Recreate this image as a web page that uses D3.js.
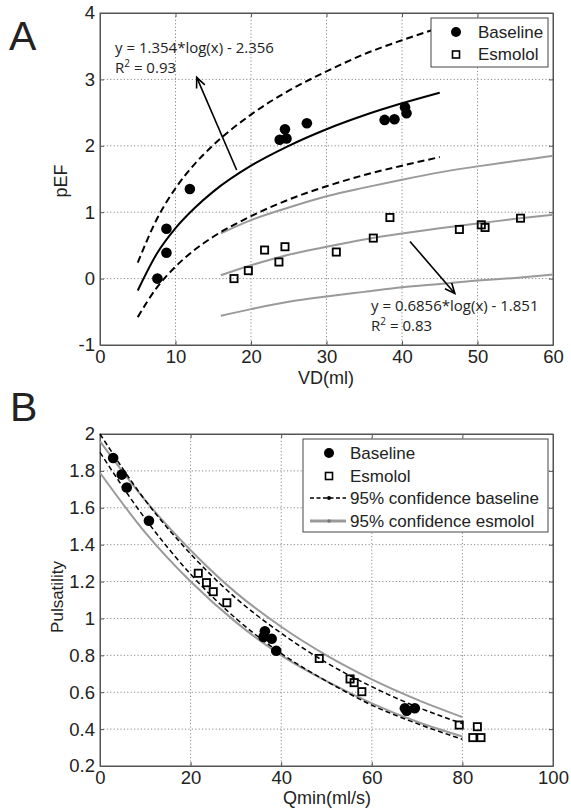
<!DOCTYPE html>
<html>
<head>
<meta charset="utf-8">
<script src="https://cdnjs.cloudflare.com/ajax/libs/d3/7.8.5/d3.min.js"></script>
<style>
  body { margin: 0; background: #fff; }
  svg text { font-family: "Liberation Sans", Arial, sans-serif; fill: #222; }
  svg text.note { font-family: "Open Sans", sans-serif; }
</style>
</head>
<body>
<div id="chart"></div>
<script>
// ---- panel A: pEF vs VD ----
const baselineA = [[7.6, 0.0], [8.8, 0.39], [8.8, 0.75], [11.9, 1.35], [23.8, 2.09], [24.5, 2.25], [24.7, 2.11],
  [27.4, 2.34], [37.7, 2.39], [39.0, 2.40], [40.4, 2.58], [40.6, 2.49]];
const esmololA = [[17.75, 0.0], [19.65, 0.12], [21.8, 0.43], [23.7, 0.25], [24.5, 0.48], [31.3, 0.40], [36.2, 0.61],
  [38.4, 0.92], [47.6, 0.74], [50.5, 0.81], [51.0, 0.77], [55.7, 0.91]];

const baseFitX = [5, 7.5, 10, 12.5, 15, 20, 25, 30, 35, 40, 45];
const baseFitA = [-0.18, 0.37, 0.76, 1.06, 1.31, 1.70, 2.00, 2.25, 2.46, 2.64, 2.80];
const baseUpperA = [0.24, 0.89, 1.36, 1.72, 2.01, 2.47, 2.83, 3.12, 3.38, 3.59, 3.78];
const baseLowerA = [-0.58, -0.14, 0.18, 0.43, 0.63, 0.94, 1.19, 1.39, 1.56, 1.70, 1.83];

const esmoFitX = [16, 20, 25, 30, 35, 40, 45, 50, 55, 60];
const esmoFitA = [0.05, 0.20, 0.36, 0.48, 0.59, 0.68, 0.76, 0.83, 0.90, 0.96];
const esmoUpperA = [0.68, 0.88, 1.07, 1.24, 1.37, 1.49, 1.60, 1.69, 1.77, 1.85];
const esmoLowerA = [-0.56, -0.46, -0.35, -0.27, -0.20, -0.13, -0.08, -0.03, 0.01, 0.06];

const xTicksA = [0, 10, 20, 30, 40, 50, 60];
const yTicksA = [-1, 0, 1, 2, 3, 4];

// ---- panel B: Pulsatility vs Qmin ----
const baselineB = [[2.9, 1.87], [4.8, 1.78], [5.9, 1.71], [10.8, 1.53], [36.1, 0.90], [36.4, 0.93], [37.9, 0.89],
  [38.9, 0.825], [67.3, 0.513], [67.7, 0.50], [69.5, 0.513]];
const esmololB = [[21.7, 1.245], [23.5, 1.194], [25.0, 1.145], [28.0, 1.085], [48.4, 0.783], [55.2, 0.672],
  [56.1, 0.652], [57.8, 0.603], [79.3, 0.422], [83.3, 0.413], [82.3, 0.354], [84.1, 0.354]];

const confX = [0, 10, 20, 30, 40, 50, 60, 70, 80];
const baseUpperB = [2.00, 1.64, 1.35, 1.11, 0.92, 0.76, 0.63, 0.52, 0.43];
const baseLowerB = [1.90, 1.54, 1.24, 1.00, 0.81, 0.66, 0.53, 0.43, 0.345];
const esmoUpperB = [1.96, 1.64, 1.37, 1.14, 0.955, 0.80, 0.67, 0.56, 0.465];
const esmoLowerB = [1.79, 1.465, 1.20, 0.98, 0.80, 0.66, 0.54, 0.44, 0.36];

const xTicksB = [0, 20, 40, 60, 80, 100];
const yTicksB = [0.2, 0.4, 0.6, 0.8, 1, 1.2, 1.4, 1.6, 1.8, 2];

const width = 571;
const height = 811;
const gray = "#9a9a9a";

const svg = d3.select("#chart").append("svg")
  .attr("width", width)
  .attr("height", height);

function makePanel(opt) {
  const x = d3.scaleLinear().domain(opt.xDomain).range([100, 553]);
  const y = d3.scaleLinear().domain(opt.yDomain).range([opt.bottom, opt.top]);
  const g = svg.append("g");

  // dotted grid
  g.append("g").selectAll("line")
    .data(opt.xTicks.slice(1, -1))
    .join("line")
    .attr("x1", d => x(d)).attr("x2", d => x(d))
    .attr("y1", opt.top).attr("y2", opt.bottom)
    .attr("stroke", "#8a8a8a").attr("stroke-dasharray", "1.2,2.2");
  g.append("g").selectAll("line")
    .data(opt.yTicks.slice(1, -1))
    .join("line")
    .attr("y1", d => y(d)).attr("y2", d => y(d))
    .attr("x1", 100).attr("x2", 553)
    .attr("stroke", "#8a8a8a").attr("stroke-dasharray", "1.2,2.2");

  const fmt = d => String(d);
  g.append("g")
    .attr("transform", `translate(0,${opt.bottom})`)
    .call(d3.axisBottom(x).tickValues(opt.xTicks).tickFormat(fmt).tickSize(-4).tickPadding(5).tickSizeOuter(0));
  g.append("g")
    .attr("transform", "translate(100,0)")
    .call(d3.axisLeft(y).tickValues(opt.yTicks).tickFormat(fmt).tickSize(-4).tickPadding(5).tickSizeOuter(0));
  g.append("g").attr("transform", `translate(0,${opt.top})`)
    .call(d3.axisTop(x).tickValues(opt.xTicks).tickSize(-4).tickFormat("").tickSizeOuter(0));
  g.append("g").attr("transform", "translate(553,0)")
    .call(d3.axisRight(y).tickValues(opt.yTicks).tickSize(-4).tickFormat("").tickSizeOuter(0));
  g.selectAll(".domain, .tick line").attr("stroke", "#555");
  g.selectAll(".tick text").attr("font-size", 18.5).attr("fill", "#222")
    .attr("font-family", "'Liberation Sans', Arial, sans-serif");

  g.append("rect")
    .attr("x", 100).attr("y", opt.top)
    .attr("width", 453).attr("height", opt.bottom - opt.top)
    .attr("fill", "none").attr("stroke", "#555");

  return { x, y, g };
}

function drawCurve(p, xs, ys, stroke, w, dash) {
  const line = d3.line()
    .x((d, i) => p.x(xs[i]))
    .y(d => p.y(d))
    .curve(d3.curveMonotoneX);
  p.g.append("path")
    .attr("d", line(ys))
    .attr("fill", "none")
    .attr("stroke", stroke)
    .attr("stroke-width", w)
    .attr("stroke-dasharray", dash || null);
}

function drawPoints(p, data, kind, size) {
  if (kind === "circle") {
    p.g.append("g").selectAll("circle")
      .data(data)
      .join("circle")
      .attr("cx", d => p.x(d[0])).attr("cy", d => p.y(d[1]))
      .attr("r", size).attr("fill", "#000");
  } else {
    p.g.append("g").selectAll("rect")
      .data(data)
      .join("rect")
      .attr("x", d => p.x(d[0]) - size / 2).attr("y", d => p.y(d[1]) - size / 2)
      .attr("width", size).attr("height", size)
      .attr("fill", "none").attr("stroke", "#000").attr("stroke-width", 1.8);
  }
}

function arrow(p, from, to) {
  const x1 = p.x(from[0]), y1 = p.y(from[1]), x2 = p.x(to[0]), y2 = p.y(to[1]);
  const a = Math.atan2(y2 - y1, x2 - x1);
  const head = 11, spread = 0.42;
  p.g.append("line")
    .attr("x1", x1).attr("y1", y1).attr("x2", x2).attr("y2", y2)
    .attr("stroke", "#000").attr("stroke-width", 1.6);
  p.g.append("path")
    .attr("d", `M${x2 - head * Math.cos(a - spread)},${y2 - head * Math.sin(a - spread)}L${x2},${y2}L${x2 - head * Math.cos(a + spread)},${y2 - head * Math.sin(a + spread)}`)
    .attr("fill", "none").attr("stroke", "#000").attr("stroke-width", 1.6);
}

function equation(p, pos, eq, r2) {
  p.g.append("text").attr("class", "note")
    .attr("x", p.x(pos[0])).attr("y", p.y(pos[1]))
    .attr("font-size", 15)
    .text(eq);
  const t = p.g.append("text").attr("class", "note")
    .attr("x", p.x(pos[0])).attr("y", p.y(pos[2]))
    .attr("font-size", 15);
  t.append("tspan").text("R");
  t.append("tspan").attr("font-size", 10).attr("dy", -5.5).text("2");
  t.append("tspan").attr("dy", 5.5).text(` = ${r2}`);
}

// ---------- Panel A ----------
const pA = makePanel({ xDomain: [0, 60], yDomain: [-1, 4], top: 13, bottom: 345, xTicks: xTicksA, yTicks: yTicksA });

drawCurve(pA, esmoFitX, esmoUpperA, gray, 2);
drawCurve(pA, esmoFitX, esmoFitA, gray, 2);
drawCurve(pA, esmoFitX, esmoLowerA, gray, 2);
drawCurve(pA, baseFitX, baseUpperA, "#000", 2, "7,4");
drawCurve(pA, baseFitX, baseLowerA, "#000", 2, "7,4");
drawCurve(pA, baseFitX, baseFitA, "#000", 2);
drawPoints(pA, baselineA, "circle", 5.3);
drawPoints(pA, esmololA, "square", 7.2);

arrow(pA, [18.1, 1.636], [12.81, 3.03]);
arrow(pA, [41.06, 0.559], [47.0, -0.224]);
equation(pA, [1.99, 3.405, 3.10], "y = 1.354*log(x) - 2.356", "0.93");
equation(pA, [35.9, -0.488, -0.782], "y = 0.6856*log(x) - 1.851", "0.83");

svg.append("text").attr("x", 326).attr("y", 384)
  .attr("text-anchor", "middle").attr("font-size", 18).text("VD(ml)");
svg.append("text").attr("transform", "translate(67,181) rotate(-90)")
  .attr("text-anchor", "middle").attr("font-size", 18).text("pEF");
svg.append("text").attr("x", 9).attr("y", 50)
  .attr("font-size", 41).attr("fill", "#000").text("A");

// legend A
const legA = svg.append("g");
legA.append("rect").attr("x", 431).attr("y", 18).attr("width", 117).attr("height", 49)
  .attr("fill", "#fff").attr("stroke", "#444");
legA.append("circle").attr("cx", 456).attr("cy", 32).attr("r", 5).attr("fill", "#000");
legA.append("rect").attr("x", 452.5).attr("y", 51).attr("width", 7).attr("height", 7)
  .attr("fill", "none").attr("stroke", "#000").attr("stroke-width", 1.6);
legA.append("text").attr("x", 478).attr("y", 38).attr("font-size", 17).text("Baseline");
legA.append("text").attr("x", 478).attr("y", 60).attr("font-size", 17).text("Esmolol");

// ---------- Panel B ----------
const pB = makePanel({ xDomain: [0, 100], yDomain: [0.2, 2], top: 434, bottom: 766, xTicks: xTicksB, yTicks: yTicksB });

drawCurve(pB, confX, esmoUpperB, gray, 2);
drawCurve(pB, confX, esmoLowerB, gray, 2);
drawCurve(pB, confX, baseUpperB, "#000", 1.5, "5,3");
drawCurve(pB, confX, baseLowerB, "#000", 1.5, "5,3");
drawPoints(pB, baselineB, "circle", 5.3);
drawPoints(pB, esmololB, "square", 7.2);

svg.append("text").attr("x", 327).attr("y", 804)
  .attr("text-anchor", "middle").attr("font-size", 18).text("Qmin(ml/s)");
svg.append("text").attr("transform", "translate(63,597) rotate(-90)")
  .attr("text-anchor", "middle").attr("font-size", 17).text("Pulsatility");
svg.append("text").attr("x", 10).attr("y", 421)
  .attr("font-size", 41).attr("fill", "#000").text("B");

// legend B
const legB = svg.append("g");
legB.append("rect").attr("x", 303).attr("y", 439).attr("width", 245).attr("height", 93)
  .attr("fill", "#fff").attr("stroke", "#444");
legB.append("circle").attr("cx", 329).attr("cy", 453).attr("r", 5).attr("fill", "#000");
legB.append("rect").attr("x", 325.5).attr("y", 472.5).attr("width", 7).attr("height", 7)
  .attr("fill", "none").attr("stroke", "#000").attr("stroke-width", 1.6);
legB.append("line").attr("x1", 310).attr("x2", 346).attr("y1", 498).attr("y2", 498)
  .attr("stroke", "#000").attr("stroke-width", 1.5).attr("stroke-dasharray", "4,2.5");
legB.append("circle").attr("cx", 329).attr("cy", 498).attr("r", 2).attr("fill", "#000");
legB.append("line").attr("x1", 310).attr("x2", 346).attr("y1", 521).attr("y2", 521)
  .attr("stroke", gray).attr("stroke-width", 3);
legB.append("circle").attr("cx", 329).attr("cy", 521).attr("r", 1.8).attr("fill", "#777");
const legLabels = ["Baseline", "Esmolol", "95% confidence baseline", "95% confidence esmolol"];
legB.selectAll("text.leg")
  .data(legLabels)
  .join("text")
  .attr("class", "leg")
  .attr("x", 350)
  .attr("y", (d, i) => 459 + i * 22.7)
  .attr("font-size", 17)
  .text(d => d);
</script>
</body>
</html>
